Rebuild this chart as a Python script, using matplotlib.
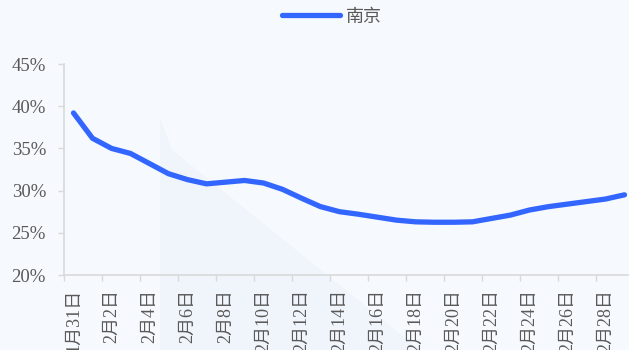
import matplotlib
matplotlib.use("Agg")
import matplotlib.pyplot as plt
import numpy as np
from matplotlib.patches import Polygon

plt.rcParams['font.family'] = ['Liberation Serif', 'Noto Sans CJK SC', 'DejaVu Sans']

# dates 1/31 .. 3/1
dates = ["1月31日"] + ["2月%d日" % d for d in range(1, 29)] + ["3月1日"]
nanjing = [39.2, 36.2, 35.0, 34.4, 33.2, 32.0, 31.3, 30.8, 31.0, 31.2,
           30.9, 30.15, 29.1, 28.1, 27.5, 27.2, 26.85, 26.5, 26.3, 26.25,
           26.25, 26.3, 26.7, 27.1, 27.7, 28.1, 28.4, 28.7, 29.0, 29.5]
yticks = [20, 25, 30, 35, 40, 45]

bg = "#F6F9FD"
grey = "#595959"
axcol = "#D9D9D9"

fig = plt.figure(figsize=(6.29, 3.5), dpi=100, facecolor=bg)

# faint watermark shape behind the plot
wm = Polygon([(160/629, 1-118/350), (172/629, 1-150/350), (420/629, 0), (160/629, 0)],
             closed=True, transform=fig.transFigure, facecolor="#F0F4FB",
             edgecolor="none", zorder=0)
fig.patches.append(wm)

ax = fig.add_axes([64/629, 75/350, 570/629, 211/350])
ax.set_zorder(2)
ax.set_facecolor("none")

x = np.arange(len(dates))
ax.plot(x, nanjing, color="#3366FF", lw=3.8, solid_capstyle="round",
        solid_joinstyle="round", label="南京", zorder=3)

ax.set_xlim(-0.5, len(dates) - 0.5)
ax.set_ylim(20, 45)
ax.set_yticks(yticks)
ax.set_yticklabels(["%d%%" % v for v in yticks])

# tick marks at category boundaries, labels at category centres
ax.set_xticks(np.arange(-0.5, len(dates), 2))
ax.set_xticklabels([])
ax.set_xticks(x[::2], minor=True)
ax.set_xticklabels(dates[::2], minor=True, rotation=90)
ax.tick_params(axis="x", which="major", length=4, color=axcol, width=1)
ax.tick_params(axis="x", which="minor", length=0, pad=10, labelcolor=grey, labelsize=13)
ax.tick_params(axis="y", length=4, color=axcol, width=1, pad=9, labelcolor=grey, labelsize=13.5)

for s in ["top", "right"]:
    ax.spines[s].set_visible(False)
for s in ["left", "bottom"]:
    ax.spines[s].set_color(axcol)
    ax.spines[s].set_linewidth(1.2)

leg = fig.legend(loc="center", bbox_to_anchor=(332/629, 1-17/350), frameon=False,
                 handlelength=3.2, handletextpad=0.3, fontsize=13, labelcolor=grey)

fig.savefig("out.png", dpi=100, facecolor=bg)
